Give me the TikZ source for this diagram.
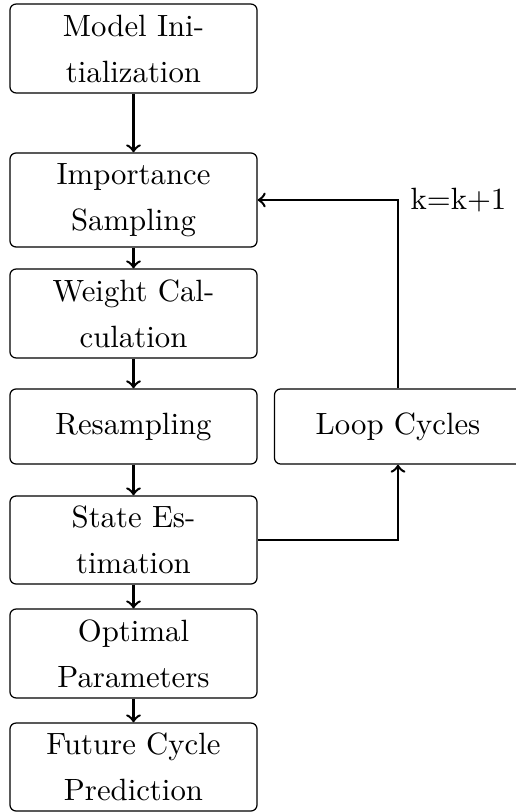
\documentclass[tikz,border=0pt]{standalone}
\usepackage{tikz}
\begin{document}
\begin{tikzpicture}[x=0.325pt,y=-0.325pt,
  box/.style={draw, line width=0.4pt, rounded corners=2pt, minimum width=80.3pt, align=center, inner sep=0pt, font=\fontsize{10}{14.95}\selectfont},
  arr/.style={->, line width=0.8pt},
  lbl/.style={inner sep=0pt, font=\fontsize{10}{12}\selectfont}]
\useasboundingbox (0,0) rectangle (515,812);
\node[box, minimum height=28.9pt] (b1) at (133.5,48.5) {Model Ini-\\tialization};
\node[box, minimum height=30.55pt] (b2) at (133.5,200) {Importance\\Sampling};
\node[box, minimum height=28.9pt] (b3) at (133.5,313.5) {Weight Cal-\\culation};
\node[box, minimum height=24.4pt] (b4) at (133.5,426.5) {Resampling};
\node[box, minimum height=28.6pt] (b5) at (133.5,540) {State Es-\\timation};
\node[box, minimum height=28.9pt] (b6) at (133.5,653.5) {Optimal\\Parameters};
\node[box, minimum height=28.6pt] (b7) at (133.5,767) {Future Cycle\\Prediction};
\node[box, minimum height=24.4pt] (loop) at (398,426.5) {Loop Cycles};
\draw[arr] (b1) -- (b2);
\draw[arr] (b2) -- (b3);
\draw[arr] (b3) -- (b4);
\draw[arr] (b4) -- (b5);
\draw[arr] (b5) -- (b6);
\draw[arr] (b6) -- (b7);
\draw[arr] (b5.east) -| (loop.south);
\coordinate (corner) at (loop.north |- b2.east);
\draw[arr] (loop.north) -- (corner) -- (b2.east);
\node[lbl, anchor=west] (k) at ([xshift=12*0.325pt]corner) {k=k+1};
\end{tikzpicture}
\end{document}
